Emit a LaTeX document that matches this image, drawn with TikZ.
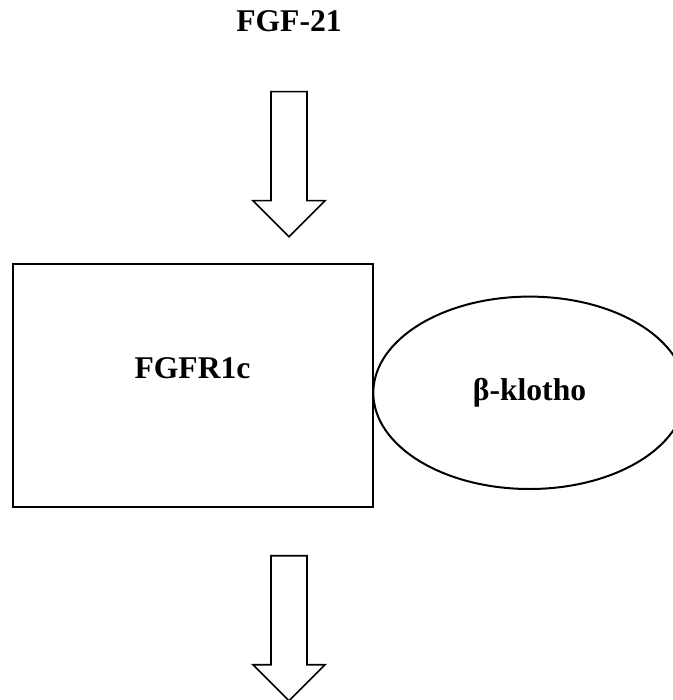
\documentclass[tikz,border=0pt]{standalone}
\usepackage{fontspec}
\setmainfont{Liberation Serif}
\usetikzlibrary{shapes.geometric}
\tikzset{
  every node/.style={font=\fontsize{15.8}{19}\selectfont\bfseries},
  receptor/.style={draw,line width=1pt,minimum width=179.7pt,minimum height=121.5pt,inner sep=0pt,outer sep=0pt},
  cofactor/.style={draw,ellipse,line width=1pt,minimum width=156.2pt,minimum height=96.2pt,inner sep=0pt,outer sep=0pt},
  blockarrow/.style={draw,line width=0.8pt,line join=miter}
}
% hollow downward arrow, given its top centre
\newcommand{\bigarrow}[1]{%
  \draw[blockarrow] (#1) ++(-18,0) -- ++(0,109) -- ++(-18,0) -- ++(36,36) -- ++(36,-36) -- ++(-18,0) -- ++(0,-109) -- cycle;}
\begin{document}
\begin{tikzpicture}[x=0.5pt,y=-0.5pt]
\useasboundingbox (0,0) rectangle (673,700);

% ligand
\node[anchor=base] (fgf) at (289,31.7) {FGF-21};

% receptor complex
\node[receptor] (fgfr) at (193,385.8) {};
\node[anchor=base] (fgfrtext) at (192.5,378.3) {FGFR1c};
\node[cofactor] (klotho) at (529.5,392.8) {β-klotho};

% arrows in and out
\coordinate (bind) at (289,91.7);
\coordinate (signal) at (289,555.7);
\bigarrow{bind}
\bigarrow{signal}
\end{tikzpicture}
\end{document}
